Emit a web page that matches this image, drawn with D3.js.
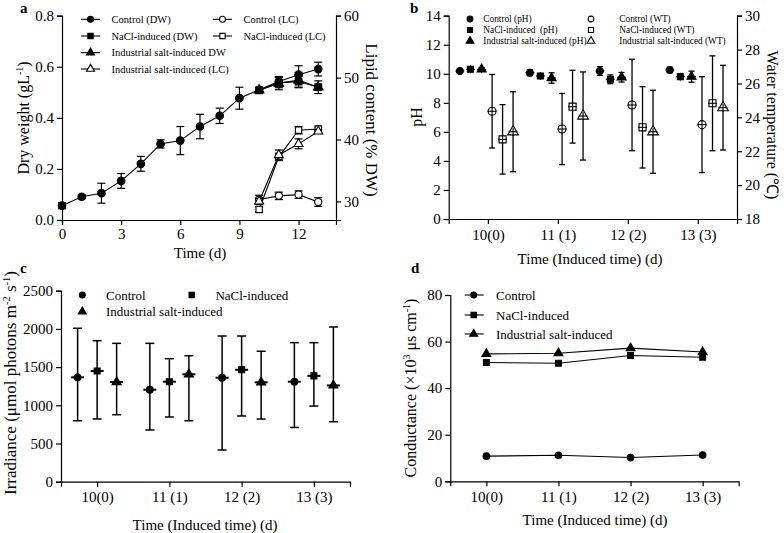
<!DOCTYPE html>
<html><head><meta charset="utf-8">
<script src="https://cdn.jsdelivr.net/npm/d3@7"></script>
<style>
body{margin:0;background:#fff;}
svg{display:block;font-family:"Liberation Serif","Times New Roman",serif;}
</style></head>
<body><svg id="c" width="784" height="533"></svg>
<script>
// ---------- Panel a data ----------
const days = [0,1,2,3,4,5,6,7,8,9,10,11,12,13];
const dwControl = [0.056,0.091,0.105,0.153,0.22,0.298,0.311,0.366,0.408,0.477,0.51,0.542,0.569,0.591];
const dwControlErr = [0.012,0.008,0.039,0.029,0.029,0.016,0.055,0.048,0.03,0.043,0.006,0.02,0.035,0.027];
const inducedDays = [10,11,12,13];
const dwNaCl = [0.508,0.538,0.542,0.52];
const dwNaClErr = [0.005,0.02,0.022,0.006];
const dwInd = [0.508,0.535,0.548,0.52];
const dwIndErr = [0.005,0.025,0.03,0.025];
const lcControl = [30.3,30.9,31.1,29.9];
const lcControlErr = [0.7,0.6,0.6,0.7];
const lcNaCl = [28.7,37.2,41.5,41.7];
const lcNaClErr = [0.4,0.6,0.6,0.3];
const lcInd = [30.0,37.5,39.3,41.3];
const lcIndErr = [0.5,0.8,0.8,0.3];
const aXTicks = [0,3,6,9,12];
const aLeftTicks = [0,0.2,0.4,0.6,0.8];
const aRightTicks = [30,40,50,60];

// ---------- Panel b data ----------
const induceCats = ["10(0)","11 (1)","12 (2)","13 (3)"];
const phControl = [10.19,10.07,10.19,10.26];
const phControlErr = [0.08,0.2,0.3,0.18];
const phNaCl = [10.31,9.85,9.62,9.8];
const phNaClErr = [0.08,0.15,0.3,0.17];
const phInd = [10.31,9.71,9.76,9.8];
const phIndErr = [0.12,0.36,0.33,0.38];
const wtControl = [24.36,23.31,24.73,23.57];
const wtControlErr = [2.17,2.1,2.7,2.83];
const wtNaCl = [22.7,24.63,23.41,24.83];
const wtNaClErr = [2.05,2.15,2.4,2.8];
const wtInd = [23.15,24.08,23.15,24.57];
const wtIndErr = [2.36,2.6,2.45,2.5];
const bLeftTicks = [0,2,4,6,8,10,12,14];
const bRightTicks = [18,20,22,24,26,28,30];

// ---------- Panel c data ----------
const irrControl = [1366,1204,1361,1309];
const irrControlLow = [798,677,415,710];
const irrControlHigh = [2008,1811,1907,1820];
const irrNaCl = [1449,1309,1465,1385];
const irrNaClLow = [821,847,860,990];
const irrNaClHigh = [1846,1610,1907,1820];
const irrInd = [1305,1406,1301,1260];
const irrIndLow = [877,798,820,785];
const irrIndHigh = [1811,1649,1707,2025];
const cTicks = [0,500,1000,1500,2000,2500];

// ---------- Panel d data ----------
const condControl = [10.8,11.2,10.2,11.3];
const condNaCl = [51,50.7,54,53.3];
const condInd = [54.7,55,57.2,55.5];
const dTicks = [0,20,40,60,80];

const FONT = "'Liberation Serif', 'Times New Roman', serif";
const svg = d3.select("#c");
const SYM = {circle:d3.symbolCircle, square:d3.symbolSquare, triangle:d3.symbolTriangle};
function marker(g,x,y,type,filled,size){
  g.append("path").attr("d",d3.symbol().type(SYM[type]).size(size)())
   .attr("transform",`translate(${x},${y})`)
   .attr("fill",filled?"#000":"#fff").attr("stroke","#000").attr("stroke-width",1.1);
}
function errBar(g,x,y1,y2,cap,w){
  w = w||1.2;
  g.append("line").attr("x1",x).attr("x2",x).attr("y1",y1).attr("y2",y2).attr("stroke","#000").attr("stroke-width",w);
  [y1,y2].forEach(yy=>g.append("line").attr("x1",x-cap).attr("x2",x+cap).attr("y1",yy).attr("y2",yy).attr("stroke","#000").attr("stroke-width",w));
}
function text(g,x,y,s,size,opts){
  opts=opts||{};
  const t=g.append("text").attr("x",x).attr("y",y).attr("font-size",size).attr("fill","#000")
   .attr("font-family",FONT).attr("font-weight",opts.bold?"bold":"normal")
   .attr("text-anchor",opts.anchor||"start").text(s);
  if(opts.rotate!==undefined) t.attr("transform",`rotate(${opts.rotate},${x},${y})`);
  return t;
}
function styleAxis(sel,size){
  sel.attr("font-family",FONT).attr("font-size",size);
  sel.selectAll("path,line").attr("stroke","#000").attr("stroke-width",1.2);
  sel.selectAll("text").attr("fill","#000");
}

// ================= Panel a =================
{
  const g = svg.append("g");
  const x = d3.scaleLinear().domain([0,13.9]).range([62,336]);
  const yL = d3.scaleLinear().domain([0,0.8]).range([220,15.7]);
  const yR = d3.scaleLinear().domain([27,60]).range([220,15.7]);
  styleAxis(g.append("g").attr("transform","translate(0,220)")
    .call(d3.axisBottom(x).tickValues(aXTicks).tickSizeOuter(0).tickSize(5).tickPadding(3)),15);
  styleAxis(g.append("g").attr("transform","translate(62,0)")
    .call(d3.axisLeft(yL).tickValues(aLeftTicks).tickFormat(d3.format(".1f")).tickSizeOuter(0).tickSize(5).tickPadding(3)),15);
  styleAxis(g.append("g").attr("transform","translate(336,0)")
    .call(d3.axisRight(yR).tickValues(aRightTicks).tickSizeOuter(0).tickSize(5).tickPadding(3)),15);
  const line = d3.line();
  const drawSeries=(xs,vals,errs,ys,type,filled,size)=>{
    g.append("path").attr("d",line(xs.map((d,i)=>[x(d),ys(vals[i])]))).attr("fill","none").attr("stroke","#000").attr("stroke-width",1.1);
    xs.forEach((d,i)=>errBar(g,x(d),ys(vals[i]-errs[i]),ys(vals[i]+errs[i]),4));
    xs.forEach((d,i)=>marker(g,x(d),ys(vals[i]),type,filled,size));
  };
  drawSeries(inducedDays,lcControl,lcControlErr,yR,"circle",false,40);
  drawSeries(inducedDays,lcNaCl,lcNaClErr,yR,"square",false,40);
  drawSeries(inducedDays,lcInd,lcIndErr,yR,"triangle",false,35);
  drawSeries(inducedDays,dwInd,dwIndErr,yL,"triangle",true,40);
  drawSeries(inducedDays,dwNaCl,dwNaClErr,yL,"square",true,45);
  drawSeries(days,dwControl,dwControlErr,yL,"circle",true,45);
  const leg = [
    {x:81,y:19.3,t:"Control (DW)",type:"circle",f:true},
    {x:81,y:36,t:"NaCl-induced (DW)",type:"square",f:true},
    {x:81,y:52.7,t:"Industrial salt-induced DW",type:"triangle",f:true},
    {x:81,y:69,t:"Industrial salt-induced (LC)",type:"triangle",f:false},
    {x:213,y:19.3,t:"Control (LC)",type:"circle",f:false},
    {x:213,y:36,t:"NaCl-induced (LC)",type:"square",f:false}
  ];
  leg.forEach(l=>{
    g.append("line").attr("x1",l.x).attr("x2",l.x+19).attr("y1",l.y).attr("y2",l.y).attr("stroke","#000").attr("stroke-width",1.1);
    marker(g,l.x+9.5,l.y,l.type,l.f,28);
    text(g,l.x+30.5,l.y+3.5,l.t,10.5);
  });
  const yl = text(g,29,118,"",16,{anchor:"middle",rotate:-90});
  yl.append("tspan").text("Dry weight (gL");
  yl.append("tspan").attr("font-size",10).attr("dy",-6).text("-1");
  yl.append("tspan").attr("dy",6).text(")");
  text(g,366,120,"Lipid content (% DW)",17,{anchor:"middle",rotate:90});
  text(g,200,258,"Time (d)",15,{anchor:"middle"});
  text(g,20,13,"a",15,{bold:true});
}

// ================= Panel b =================
{
  const g = svg.append("g");
  const x = d3.scaleLinear().domain([-0.56,3.56]).range([448.7,737]);
  const yL = d3.scaleLinear().domain([0,14]).range([219,15.7]);
  const yR = d3.scaleLinear().domain([18,30]).range([219,15.7]);
  styleAxis(g.append("g").attr("transform","translate(0,219)")
    .call(d3.axisBottom(x).tickValues([0,1,2,3]).tickFormat(i=>induceCats[i]).tickSizeOuter(0).tickSize(5).tickPadding(5)),15);
  styleAxis(g.append("g").attr("transform","translate(448.7,0)")
    .call(d3.axisLeft(yL).tickValues(bLeftTicks).tickSizeOuter(0).tickSize(5).tickPadding(3)),15);
  styleAxis(g.append("g").attr("transform","translate(737,0)")
    .call(d3.axisRight(yR).tickValues(bRightTicks).tickSizeOuter(0).tickSize(5).tickPadding(3)),15);
  const offs = [-0.4,-0.25,-0.09,0.06,0.21,0.36];
  const series = [
    {v:phControl,e:phControlErr,y:yL,type:"circle",f:true},
    {v:phNaCl,e:phNaClErr,y:yL,type:"square",f:true},
    {v:phInd,e:phIndErr,y:yL,type:"triangle",f:true},
    {v:wtControl,e:wtControlErr,y:yR,type:"circle",f:false},
    {v:wtNaCl,e:wtNaClErr,y:yR,type:"square",f:false},
    {v:wtInd,e:wtIndErr,y:yR,type:"triangle",f:false}
  ];
  series.forEach((s,si)=>{
    s.v.forEach((v,i)=>{
      const cx = x(i+offs[si]);
      errBar(g,cx,s.y(v-s.e[i]),s.y(v+s.e[i]),3,1.3);
      marker(g,cx,s.y(v),s.type,s.f,s.f?36:50);
      g.append("line").attr("x1",cx-4.5).attr("x2",cx+4.5).attr("y1",s.y(v)).attr("y2",s.y(v)).attr("stroke","#000").attr("stroke-width",1.1);
      g.append("line").attr("x1",cx).attr("x2",cx).attr("y1",s.y(v)-4).attr("y2",s.y(v)+4).attr("stroke","#000").attr("stroke-width",1.1);
    });
  });
  const leg = [
    {x:470,y:19,t:"Control (pH)",type:"circle",f:true},
    {x:470,y:30,t:"NaCl-induced  (pH)",type:"square",f:true},
    {x:470,y:41,t:"Industrial salt-induced (pH)",type:"triangle",f:true},
    {x:591,y:19,t:"Control (WT)",type:"circle",f:false},
    {x:591,y:30,t:"NaCl-induced (WT)",type:"square",f:false},
    {x:591,y:41,t:"Industrial salt-induced (WT)",type:"triangle",f:false}
  ];
  leg.forEach(l=>{
    marker(g,l.x,l.y,l.type,l.f,26);
    text(g,l.x+(l.f?13.3:28.3),l.y+3.3,l.t,9.3).style("white-space","pre");
  });
  text(g,422,117,"pH",16,{anchor:"middle",rotate:-90});
  text(g,767,125,"Water temperature (\u2103)",16,{anchor:"middle",rotate:90});
  text(g,590,264,"Time (Induced time) (d)",15,{anchor:"middle"});
  text(g,410,13,"b",15,{bold:true});
}

// ================= Panel c =================
{
  const g = svg.append("g");
  const x = d3.scaleLinear().domain([-0.5,3.5]).range([61,350]);
  const y = d3.scaleLinear().domain([0,2500]).range([481.7,290.7]);
  styleAxis(g.append("g").attr("transform","translate(0,481.7)")
    .call(d3.axisBottom(x).tickValues([0,1,2,3]).tickFormat(i=>induceCats[i]).tickSizeOuter(0).tickSize(5).tickPadding(5)),15);
  styleAxis(g.append("g").attr("transform","translate(61,0)")
    .call(d3.axisLeft(y).tickValues(cTicks).tickFormat(d3.format("d")).tickSizeOuter(0).tickSize(5).tickPadding(3)),15);
  const offs = [-0.27,0,0.27];
  const series = [
    {v:irrControl,lo:irrControlLow,hi:irrControlHigh,type:"circle"},
    {v:irrNaCl,lo:irrNaClLow,hi:irrNaClHigh,type:"square"},
    {v:irrInd,lo:irrIndLow,hi:irrIndHigh,type:"triangle"}
  ];
  series.forEach((s,si)=>{
    s.v.forEach((v,i)=>{
      const cx = x(i+offs[si]);
      errBar(g,cx,y(s.lo[i]),y(s.hi[i]),4.5,1.5);
      g.append("line").attr("x1",cx-6.5).attr("x2",cx+6.5).attr("y1",y(v)).attr("y2",y(v)).attr("stroke","#000").attr("stroke-width",2);
      marker(g,cx,y(v),s.type,true,36);
    });
  });
  const leg = [
    {x:82.3,y:295,t:"Control",type:"circle"},
    {x:82.3,y:311.7,t:"Industrial salt-induced",type:"triangle"},
    {x:191.7,y:295,t:"NaCl-induced",type:"square"}
  ];
  leg.forEach(l=>{
    marker(g,l.x,l.y,l.type,true,28);
    text(g,l.x+23.7,l.y+4.5,l.t,13);
  });
  const yl = text(g,16,383,"",17,{anchor:"middle",rotate:-90});
  yl.append("tspan").text("Irradiance (\u03bcmol photons m");
  yl.append("tspan").attr("font-size",10.5).attr("dy",-6).text("-2");
  yl.append("tspan").attr("dy",6).text(" s");
  yl.append("tspan").attr("font-size",10.5).attr("dy",-6).text("-1");
  yl.append("tspan").attr("dy",6).text(")");
  text(g,205,530,"Time (Induced time) (d)",15,{anchor:"middle"});
  text(g,20,273,"c",15,{bold:true});
}

// ================= Panel d =================
{
  const g = svg.append("g");
  const x = d3.scaleLinear().domain([-0.5,3.5]).range([450.3,738.7]);
  const y = d3.scaleLinear().domain([0,80]).range([481.3,295]);
  styleAxis(g.append("g").attr("transform","translate(0,481.3)")
    .call(d3.axisBottom(x).tickValues([0,1,2,3]).tickFormat(i=>induceCats[i]).tickSizeOuter(0).tickSize(5).tickPadding(5)),15);
  styleAxis(g.append("g").attr("transform","translate(450.3,0)")
    .call(d3.axisLeft(y).tickValues(dTicks).tickSizeOuter(0).tickSize(5).tickPadding(3)),15);
  const series = [
    {v:condControl,type:"circle"},
    {v:condNaCl,type:"square"},
    {v:condInd,type:"triangle"}
  ];
  const line = d3.line();
  series.forEach(s=>{
    g.append("path").attr("d",line(s.v.map((v,i)=>[x(i),y(v)]))).attr("fill","none").attr("stroke","#000").attr("stroke-width",1.1);
    s.v.forEach((v,i)=>marker(g,x(i),y(v),s.type,true,34));
  });
  const leg = [
    {y:295,t:"Control",type:"circle"},
    {y:315,t:"NaCl-induced",type:"square"},
    {y:334,t:"Industrial salt-induced",type:"triangle"}
  ];
  leg.forEach(l=>{
    g.append("line").attr("x1",464.7).attr("x2",483.7).attr("y1",l.y).attr("y2",l.y).attr("stroke","#000").attr("stroke-width",1.1);
    marker(g,473.7,l.y,l.type,true,28);
    text(g,496,l.y+4.5,l.t,13);
  });
  const yl = text(g,416,388,"",16,{anchor:"middle",rotate:-90});
  yl.append("tspan").text("Conductance (\u00d710");
  yl.append("tspan").attr("font-size",10).attr("dy",-6).text("3");
  yl.append("tspan").attr("dy",6).text(" \u03bcs cm");
  yl.append("tspan").attr("font-size",10).attr("dy",-6).text("-1");
  yl.append("tspan").attr("dy",6).text(")");
  text(g,595,525,"Time (Induced time) (d)",15,{anchor:"middle"});
  text(g,411,273,"d",15,{bold:true});
}
</script></body></html>
